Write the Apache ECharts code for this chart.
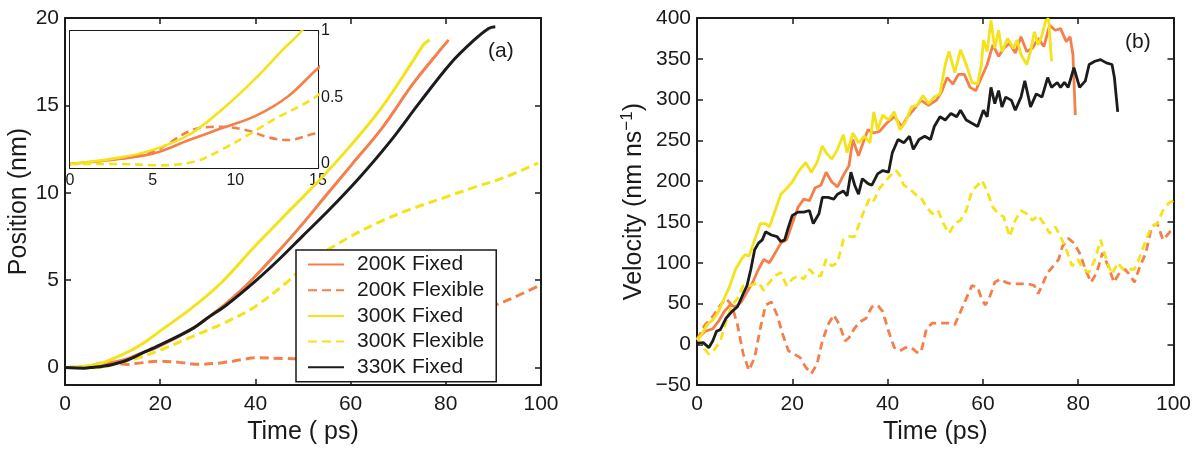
<!DOCTYPE html>
<html>
<head>
<meta charset="utf-8">
<script src="https://cdn.jsdelivr.net/npm/echarts@6/dist/echarts.min.js"></script>
<style>
  html, body { margin: 0; padding: 0; background: #fff; }
  #chart { width: 1194px; height: 450px; }
</style>
</head>
<body>
<div id="chart"></div>
<script>
// ---- Series names and colours ----
const seriesNames = ['200K Fixed', '200K Flexible', '300K Fixed', '300K Flexible', '330K Fixed'];
const seriesColors = ['#F57F4B', '#F57F4B', '#F4E31A', '#F4E31A', '#1C1C1C'];
const seriesDashed = [false, true, false, true, false];

// ---- (a) Position (nm) vs time (ps) ----
const pos200Fixed = [[0,0],[3.1,0.04],[5.1,0.08],[7.2,0.18],[9.2,0.27],[11.2,0.36],[13.2,0.51],[15,0.72],[20,1.25],[26.6,2.2],[30,2.85],[34,3.7],[39,4.95],[45,6.7],[50,8.25],[55,9.9],[60.2,11.6],[66.6,13.7],[73,16.2],[78,17.9],[80.6,18.75]];
const pos200Flexible = [[0,0],[3,0.04],[5,0.09],[7.8,0.27],[9.2,0.28],[10.8,0.25],[12,0.2],[13.2,0.18],[14.8,0.23],[20,0.37],[24,0.3],[28,0.19],[33,0.28],[37,0.45],[40,0.56],[46,0.52],[50,0.5],[55,0.62],[60,0.9],[65,1.25],[70,1.65],[75,2.15],[80,2.65],[85,3.1],[90.6,3.6],[95,4.1],[100,4.75]];
const pos300Fixed = [[0,0],[3.1,0.05],[5.1,0.11],[7.2,0.22],[9.2,0.41],[11.2,0.64],[12.8,0.85],[14,1.0],[17,1.5],[20,2.1],[26.6,3.4],[33,4.9],[39.4,6.8],[45.8,8.6],[53,10.6],[60,12.7],[66.6,14.9],[73,17.5],[75.4,18.5],[76.6,18.75]];
const pos300Flexible = [[0,0],[3.1,0],[5.5,-0.01],[7.6,0.02],[9.2,0.11],[10.8,0.22],[12.4,0.34],[14.8,0.5],[20,1.0],[26.6,1.76],[33,2.5],[39.4,3.4],[45.8,4.7],[52.2,6.2],[60,7.5],[66.6,8.4],[73,9.1],[79.4,9.7],[85.8,10.3],[92,10.85],[99.4,11.7]];
const pos330Fixed = [[0,0],[4,-0.03],[6,0.02],[8,0.08],[10,0.18],[13,0.42],[16,0.8],[20,1.3],[26.6,2.2],[30,2.85],[34,3.6],[40,4.95],[45,6.2],[50,7.55],[55.4,9.0],[61.8,10.85],[68.2,12.9],[74.6,15.2],[81,17.4],[85.8,18.7],[89,19.4],[90.4,19.5]];

// ---- (b) Velocity (nm/ns) vs time (ps) ----
const vel200Fixed = [[0,6],[1.7,16],[3.3,19],[4.5,28],[5.7,40],[6.9,48],[8.1,46],[9.3,52],[10.5,64],[11.7,76],[12.9,92],[14,104],[15.2,100],[16.4,112],[17.6,124],[18.8,128],[20,148],[21.2,168],[22.4,178],[23.6,176],[24.8,192],[26,195],[27.1,211],[28.3,199],[29.5,193],[30.7,207],[31.9,219],[32.7,251],[33.9,231],[35.1,251],[35.9,263],[37.1,259],[38.3,261],[39.8,271],[41.4,279],[43,267],[44.2,279],[45.4,287],[47,299],[48.6,293],[50.2,299],[51.3,309],[52.5,327],[53.7,319],[54.9,331],[56.1,331],[57.3,315],[58.5,311],[59.7,327],[60.9,343],[62.1,367],[63.3,353],[64.4,363],[65.6,369],[66.8,357],[68,377],[69.2,359],[70.4,363],[71.6,375],[72.8,365],[74,391],[75.2,385],[76.3,387],[77.5,371],[78.3,377],[78.9,355],[79.4,281]];
const vel200Flexible = [[0,6],[1.7,24],[3.3,34],[4.9,48],[6.1,56],[7.3,48],[8.5,24],[9.7,-12],[10.9,-32],[12.1,-16],[13.3,20],[14.4,48],[15.6,52],[16.8,36],[18,12],[19.2,-8],[20.4,-12],[21.6,-16],[22.8,-28],[24,-36],[25.2,-24],[26.3,4],[27.5,24],[28.7,36],[29.9,24],[31.1,4],[31.9,8],[33.1,20],[34.3,28],[35.5,32],[36.7,46],[37.9,48],[39,40],[40.2,16],[41.4,-4],[42.6,-8],[43.8,-4],[45,-4],[46.2,-10],[47,-10],[48.2,20],[49.4,26],[50.6,26],[51.7,26],[52.9,26],[54.1,24],[55.3,40],[56.5,56],[57.7,72],[58.9,70],[59.7,56],[60.5,48],[61.3,56],[62.5,76],[63.7,80],[64.8,76],[66,74],[67.2,74],[68.4,74],[69.6,74],[70.8,72],[71.6,62],[72.4,72],[73.6,88],[74.8,96],[75.9,104],[76.7,120],[77.9,130],[79.1,124],[80.3,112],[81.5,92],[82.7,76],[83.9,88],[85.1,112],[86.3,96],[87.5,76],[88.7,88],[89.8,92],[91,84],[91.8,76],[93,96],[94.2,112],[95.4,144],[96.6,148],[97.8,128],[99,136],[100,144]];
const vel300Fixed = [[0,6],[1,12],[2.1,24],[3.3,30],[4.5,40],[5.7,56],[6.9,72],[8.1,92],[9.3,104],[10.1,110],[10.9,108],[12.1,128],[13.3,148],[14.4,148],[15.2,144],[16.4,164],[17.6,184],[18.8,191],[20,199],[21.2,211],[22.8,223],[24,211],[25.2,223],[26.3,243],[27.1,235],[28.3,227],[29.5,239],[30.7,257],[31.5,235],[32.7,259],[33.9,247],[35.1,255],[36.3,247],[37.1,285],[37.9,263],[39,281],[40.2,275],[41.4,285],[42.6,263],[43.8,273],[45,291],[46.2,293],[47.4,305],[48.6,295],[49.8,303],[51,307],[52.1,343],[52.9,359],[54.1,333],[55.3,361],[56.5,343],[57.7,321],[58.9,319],[59.7,343],[60.1,373],[60.9,359],[61.7,397],[62.5,363],[63.3,385],[64,359],[65.2,375],[66.4,363],[67.2,373],[68,355],[69.2,343],[70,359],[70.8,383],[71.6,367],[72.4,379],[73.2,397],[73.8,399],[74.4,347]];
const vel300Flexible = [[0,8],[1.3,-4],[2.5,-12],[3.7,-6],[4.9,4],[6.1,28],[7.3,48],[8.5,56],[9.7,72],[11.3,72],[12.9,76],[14,66],[15.2,76],[16.4,84],[17.6,88],[18.8,72],[20,80],[21.2,84],[22.4,80],[23.6,92],[24.8,84],[26,84],[27.1,104],[28.3,96],[29.5,100],[30.7,128],[31.9,132],[33.1,132],[34.3,152],[35.1,164],[36.3,180],[37.1,176],[38.3,191],[39.4,199],[40.6,207],[41.8,213],[42.6,207],[43.4,195],[44.6,191],[45.8,184],[47,180],[48.2,168],[49.4,160],[50.6,164],[51.7,148],[52.9,136],[54.1,148],[55.3,152],[56.5,164],[57.7,188],[58.9,195],[59.8,201],[60.9,188],[62.1,168],[63.3,160],[64.4,156],[65.6,132],[66.8,152],[68,164],[69.2,160],[70.4,152],[71.6,158],[72.8,148],[74,136],[75.2,144],[76.3,132],[77.5,116],[78.7,96],[79.9,104],[81.1,92],[82.3,88],[83.5,104],[84.7,128],[85.9,104],[87.1,86],[88.3,100],[89.4,92],[90.6,92],[91.8,92],[93,108],[94.2,128],[95.4,144],[96.6,148],[97.8,164],[99,173],[100,176]];
const vel330Fixed = [[0,1],[1.3,2],[2.5,-4],[3.3,4],[4.1,16],[4.9,18],[6.1,32],[7.3,40],[8.5,46],[9.7,62],[10.5,72],[11.3,92],[12.1,116],[12.9,124],[13.7,128],[14.4,138],[15.6,134],[16.8,132],[17.6,126],[18.4,128],[19.2,144],[20,158],[21.2,162],[22.4,162],[23.6,164],[24.4,148],[25.6,160],[26.3,180],[27.5,180],[28.7,178],[29.5,184],[30.7,188],[31.5,182],[32.3,211],[33.1,195],[33.9,184],[34.7,203],[35.9,197],[36.7,195],[37.9,209],[39,213],[40.2,211],[41,235],[42.2,251],[43.4,247],[44.6,255],[45.4,239],[46.6,251],[47.8,255],[49,251],[49.8,267],[51,279],[52.1,275],[53.3,283],[54.5,279],[55.3,287],[56.5,275],[57.7,271],[58.9,267],[60.1,287],[60.9,279],[61.7,315],[62.5,295],[63.3,311],[64,291],[64.8,303],[66,299],[66.8,287],[68,303],[68.8,323],[70,291],[71.2,307],[72.4,303],[73.6,327],[74.4,315],[75.6,321],[76.3,315],[77.1,321],[77.9,315],[79.1,339],[80.3,315],[81.5,323],[82.3,343],[83.5,347],[84.7,349],[85.9,345],[87.1,343],[87.6,327],[88.3,285]];

// ---- Tick values ----
const posTicks = [0, 5, 10, 15, 20];
const insetTicks = [0, 0.5, 1];

const positionData = [pos200Fixed, pos200Flexible, pos300Fixed, pos300Flexible, pos330Fixed];
const velocityData = [vel200Fixed, vel200Flexible, vel300Fixed, vel300Flexible, vel330Fixed];

const FONT = "'Liberation Sans', Arial, Helvetica, sans-serif";
const INK = '#1a1a1a';

function frameAxis(extra) {
  return Object.assign({
    type: 'value',
    axisLine: { show: true, onZero: false, lineStyle: { color: INK, width: 2 } },
    axisTick: { show: true, inside: true, length: 6, lineStyle: { color: INK, width: 1.5 } },
    axisLabel: { show: false },
    splitLine: { show: false },
    nameTextStyle: { fontFamily: FONT, fontSize: 25, color: INK }
  }, extra);
}
function labels(size, margin, extra) {
  return Object.assign({ show: true, fontFamily: FONT, fontSize: size, color: INK, margin: margin,
    formatter: v => String(v).replace('-', '\u2212') }, extra || {});
}
const insetTick = { show: true, inside: true, length: 4, lineStyle: { color: INK, width: 1.2 } };

const xAxes = [
  // (a) main frame
  frameAxis({ gridIndex: 0, position: 'bottom', min: 0, max: 100, interval: 20,
    axisLabel: labels(21, 9), name: 'Time ( ps)', nameLocation: 'middle', nameGap: 22 }),
  frameAxis({ gridIndex: 0, position: 'top', min: 0, max: 100, interval: 20 }),
  // inset frame
  frameAxis({ gridIndex: 1, position: 'bottom', min: 0, max: 15, interval: 5,
    axisTick: insetTick, axisLabel: labels(16, 5) }),
  frameAxis({ gridIndex: 1, position: 'top', min: 0, max: 15, interval: 5, axisTick: insetTick }),
  // (b) frame
  frameAxis({ gridIndex: 2, position: 'bottom', min: 0, max: 100, interval: 20,
    axisLabel: labels(21, 9), name: 'Time (ps)', nameLocation: 'middle', nameGap: 22 }),
  frameAxis({ gridIndex: 2, position: 'top', min: 0, max: 100, interval: 20 })
];

const yAxes = [
  frameAxis({ gridIndex: 0, position: 'left', min: -1, max: 20,
    axisTick: { show: true, inside: true, length: 6, customValues: posTicks, lineStyle: { color: INK, width: 1.5 } },
    axisLabel: labels(21, 6, { customValues: posTicks }),
    name: 'Position (nm)', nameLocation: 'middle', nameGap: 24, nameRotate: 90 }),
  frameAxis({ gridIndex: 0, position: 'right', min: -1, max: 20,
    axisTick: { show: true, inside: true, length: 6, customValues: posTicks, lineStyle: { color: INK, width: 1.5 } } }),
  frameAxis({ gridIndex: 1, position: 'left', min: -0.03, max: 1,
    axisTick: Object.assign({ customValues: insetTicks }, insetTick) }),
  frameAxis({ gridIndex: 1, position: 'right', min: -0.03, max: 1,
    axisTick: Object.assign({ customValues: insetTicks }, insetTick),
    axisLabel: labels(16, 3, { customValues: insetTicks }) }),
  frameAxis({ gridIndex: 2, position: 'left', min: -50, max: 400, interval: 50,
    axisLabel: labels(21, 6),
    name: 'Velocity (nm ns{sup|\u22121})', nameLocation: 'middle', nameGap: 48, nameRotate: 90,
    nameTextStyle: { fontFamily: FONT, fontSize: 25, color: INK,
      rich: { sup: { fontFamily: FONT, fontSize: 17, color: INK, verticalAlign: 'top', lineHeight: 30 } } } }),
  frameAxis({ gridIndex: 2, position: 'right', min: -50, max: 400, interval: 50 })
];

function makeSeries(dataSets, xi, yi, width, dash, smooth, z) {
  return dataSets.map((d, i) => ({
    name: seriesNames[i],
    type: 'line',
    xAxisIndex: xi,
    yAxisIndex: yi,
    data: d,
    showSymbol: false,
    symbol: 'none',
    legendIcon: 'none',
    smooth: smooth,
    z: z,
    silent: true,
    lineStyle: { color: seriesColors[i], width: width, type: seriesDashed[i] ? dash : 'solid', cap: 'butt' },
    itemStyle: { color: seriesColors[i] }
  }));
}

// the inset shows the first four runs over 0–15 ps
const insetSeries = makeSeries(positionData.slice(0, 4), 2, 2, 2.6, [8, 5], 0.35, 6);

const option = {
  animation: false,
  backgroundColor: '#fff',
  grid: [
    { left: 65, top: 18, width: 476, height: 378 },
    { left: 70, top: 31, width: 248, height: 137, show: true, backgroundColor: '#fff', borderWidth: 0, z: 3 },
    { left: 697, top: 18, width: 477, height: 377 }
  ],
  xAxis: xAxes,
  yAxis: yAxes,
  legend: {
    data: seriesNames,
    orient: 'vertical',
    left: 296,
    top: 250,
    itemWidth: 36,
    itemHeight: 20,
    itemGap: 4.7,
    padding: [4, 12, 4, 11],
    backgroundColor: '#fff',
    borderColor: INK,
    borderWidth: 1.5,
    borderRadius: 0,
    selectedMode: false,
    itemStyle: { opacity: 0 },
    z: 10,
    textStyle: { fontFamily: FONT, fontSize: 21, color: INK, padding: [0, 0, 0, 8] }
  },
  graphic: [
    { type: 'text', left: 488, top: 41, style: { text: '(a)', font: '21px ' + FONT, fill: INK } },
    { type: 'text', left: 1125, top: 32, style: { text: '(b)', font: '21px ' + FONT, fill: INK } }
  ],
  series: [].concat(
    makeSeries(positionData, 0, 0, 3, [9, 5], 0.35, 2),
    insetSeries,
    makeSeries(velocityData, 4, 4, 2.8, [8, 5], false, 2)
  )
};

const chart = echarts.init(document.getElementById('chart'), null, { renderer: 'canvas' });
chart.setOption(option);
</script>
</body>
</html>
